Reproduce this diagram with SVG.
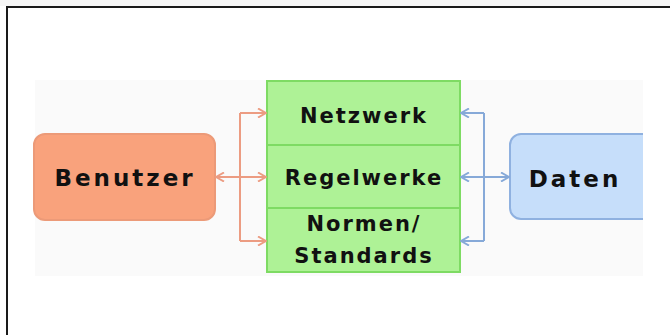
<svg xmlns="http://www.w3.org/2000/svg" width="670" height="335" viewBox="0 0 670 335">
  <style>
    .lbl { font-family: "DejaVu Sans", Verdana, sans-serif; font-weight: bold; fill: #111; text-anchor: middle; }
    .big { font-size: 23px; letter-spacing: 3px; }
    .mid { font-size: 21px; letter-spacing: 2px; }
    .orange { stroke: #ec9c82; stroke-width: 2; fill: none; }
    .blue { stroke: #86a9d8; stroke-width: 2; fill: none; }
  </style>
  <defs>
    <marker id="ah-o" viewBox="0 0 10 10" refX="9" refY="5" markerWidth="10" markerHeight="10" markerUnits="userSpaceOnUse" orient="auto-start-reverse">
      <polyline points="1,0.5 9,5 1,9.5" fill="none" stroke="#ec9c82" stroke-width="2"/>
    </marker>
    <marker id="ah-b" viewBox="0 0 10 10" refX="9" refY="5" markerWidth="10" markerHeight="10" markerUnits="userSpaceOnUse" orient="auto-start-reverse">
      <polyline points="1,0.5 9,5 1,9.5" fill="none" stroke="#86a9d8" stroke-width="2"/>
    </marker>
    <clipPath id="crop">
      <rect x="0" y="0" width="643" height="335"/>
    </clipPath>
  </defs>

  <!-- page frame -->
  <rect x="0" y="0" width="670" height="335" fill="#ffffff"/>
  <rect x="0" y="0" width="670" height="6" fill="#f6f6f6"/>
  <path d="M7,335 V7 H670" fill="none" stroke="#1a1a1a" stroke-width="2"/>
  <rect x="35" y="80" width="608" height="196" fill="#fafafa"/>

  <g id="benutzer">
    <rect x="34" y="134" width="181" height="86" rx="11" fill="#f9a27c" stroke="#ec9a78" stroke-width="2"/>
    <text class="lbl big" x="125" y="186">Benutzer</text>
  </g>

  <g id="netzwerk">
    <rect x="267" y="81" width="193" height="64" fill="#aef296" stroke="#7edb63" stroke-width="2"/>
    <text class="lbl mid" x="364" y="123">Netzwerk</text>
  </g>
  <g id="regelwerke">
    <rect x="267" y="145" width="193" height="63" fill="#aef296" stroke="#7edb63" stroke-width="2"/>
    <text class="lbl mid" x="364" y="185">Regelwerke</text>
  </g>
  <g id="normen">
    <rect x="267" y="208" width="193" height="64" fill="#aef296" stroke="#7edb63" stroke-width="2"/>
    <text class="lbl mid" x="364" y="231">Normen/</text>
    <text class="lbl mid" x="364" y="263">Standards</text>
  </g>

  <g id="daten" clip-path="url(#crop)">
    <rect x="510" y="134" width="150" height="85" rx="11" fill="#c6defa" stroke="#8fb1e0" stroke-width="2"/>
    <text class="lbl big" x="575" y="187">Daten</text>
  </g>

  <g id="connectors">
    <path class="orange" d="M240,113 V241"/>
    <path class="orange" d="M240,113 H266" marker-end="url(#ah-o)"/>
    <path class="orange" d="M216,177 H266" marker-start="url(#ah-o)" marker-end="url(#ah-o)"/>
    <path class="orange" d="M240,241 H266" marker-end="url(#ah-o)"/>

    <path class="blue" d="M484,113 V241"/>
    <path class="blue" d="M484,113 H461" marker-end="url(#ah-b)"/>
    <path class="blue" d="M461,177 H509" marker-start="url(#ah-b)" marker-end="url(#ah-b)"/>
    <path class="blue" d="M484,241 H461" marker-end="url(#ah-b)"/>
  </g>
</svg>
